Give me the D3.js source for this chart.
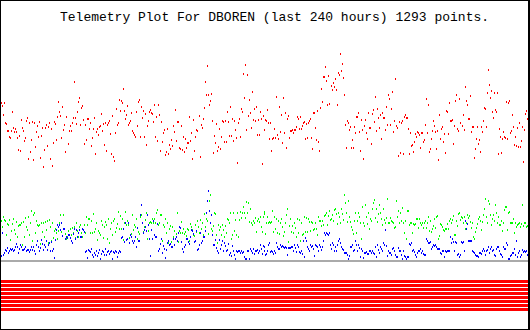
<!DOCTYPE html>
<html>
<head>
<meta charset="utf-8">
<script src="https://cdn.jsdelivr.net/npm/d3@7"></script>
<style>
  body { margin: 0; background: #fff; }
  svg { display: block; }
</style>
</head>
<body>
<div id="chart"></div>
<script>
var title = "Telemetry Plot For DBOREN (last 240 hours) 1293 points.";
var hoursBack = 240;

// readings, oldest first (arbitrary units above the zero line)
var redVals = [
  157,154,145,157,137,136,129,129,123,122,129,148,132,128,131,128,122,110,124,109,140,132,129,119,122,139,142,101,137,108,
  120,138,100,137,113,128,134,123,138,102,124,132,93,110,132,135,114,133,137,101,131,94,117,138,136,120,143,158,148,144,
  122,153,130,135,108,143,116,129,134,129,137,142,178,142,136,148,158,162,135,152,154,140,116,135,120,141,141,131,137,114,
  122,131,142,106,128,131,125,133,134,146,129,136,115,137,109,135,137,139,126,106,144,103,99,127,151,135,137,160,149,159,
  157,171,149,141,145,154,135,137,139,147,129,127,125,123,148,134,158,160,123,153,142,149,123,146,115,134,139,148,150,147,
  146,138,155,123,143,119,155,145,109,138,118,127,130,105,108,131,106,115,111,120,114,134,128,150,119,138,
  138,112,111,134,110,123,108,121,112,117,117,143,119,127,101,140,109,123,130,129,144,103,135,132,141,152,178,165,194,165,
  155,159,166,139,107,124,117,136,109,113,131,111,123,139,138,118,139,118,148,138,124,153,124,141,119,139,130,122,97,137,
  141,123,151,148,186,162,195,130,185,144,160,147,132,168,140,151,139,153,125,140,125,148,141,96,144,130,140,139,150,137,
  121,137,109,121,122,131,122,163,125,121,153,128,145,117,162,127,147,112,141,144,122,129,129,130,127,130,130,133,143,141,
  131,143,131,134,137,138,121,136,122,137,139,141,122,111,147,147,132,120,149,118,109,152,171,158,183,183,193,179,155,184,
  156,174,170,177,173,181,170,155,187,185,206,189,196,182,165,135,112,139,137,130,133,112,120,112,133,127,143,143,
  147,128,109,140,130,101,134,140,127,121,147,132,132,116,146,150,138,163,129,151,142,132,145,121,147,142,142,130,153,135,
  165,161,135,151,168,128,139,181,134,132,104,138,107,137,139,106,143,145,142,142,131,106,127,114,115,108,118,126,123,128,
  127,125,112,127,127,118,120,135,161,127,155,108,111,121,129,139,134,128,111,129,100,145,121,131,133,118,126,107,149,148,
  126,157,139,139,140,116,134,159,165,131,129,161,137,134,145,130,173,159,155,141,141,164,128,133,133,102,111,121,133,116,
  120,108,133,128,139,152,151,133,167,190,175,162,169,148,142,167,150,148,167,106,131,123,107,121,128,123,122,158,121,157,
  159,127,129,145,133,115,123,114,132,113,137,113,119,133,98,130,146,149,141
];

var greenVals = [
  39,33,43,40,39,25,36,35,40,20,29,36,41,30,26,38,23,34,35,35,37,15,38,23,42,33,30,43,25,37,
  49,19,45,47,27,39,35,34,35,16,37,28,37,23,38,30,39,17,40,33,19,37,22,29,31,27,21,29,37,45,
  28,24,45,31,26,21,23,29,25,31,25,32,27,33,22,37,29,23,33,35,27,23,30,35,27,43,35,41,41,27,
  39,27,46,28,31,37,20,29,27,25,39,35,22,33,38,35,21,41,17,31,37,25,39,41,28,32,36,48,31,44,
  31,41,20,37,48,35,39,35,22,25,26,45,30,35,33,41,21,28,26,43,45,37,28,33,40,47,21,29,37,38,
  37,41,37,41,37,47,50,35,37,45,45,19,35,33,41,27,37,17,31,34,18,33,23,29,21,26,47,18,29,27,
  38,27,31,26,28,24,31,30,19,36,33,30,25,24,35,28,39,33,27,40,31,37,25,46,33,41,39,26,59,65,
  31,29,34,47,46,25,17,35,30,33,25,35,30,23,34,27,41,40,37,47,21,25,47,29,40,25,47,23,40,48,
  42,47,53,47,42,58,47,57,38,51,37,35,39,37,42,28,39,41,38,43,33,28,43,48,46,26,37,43,37,38,
  37,38,49,28,43,31,41,27,39,26,37,41,33,24,28,37,45,51,18,34,41,28,34,27,37,32,23,41,27,40,
  19,37,25,26,43,28,42,28,41,38,29,38,37,30,31,37,31,25,43,39,39,34,39,35,44,45,47,35,44,49,
  40,41,45,39,50,51,46,36,47,43,37,51,46,40,65,57,47,38,59,43,38,33,30,26,39,47,27,39,47,
  43,37,21,53,37,34,55,43,36,47,31,41,39,51,57,60,42,51,38,46,55,47,41,35,51,40,37,42,61,37,
  37,42,39,38,37,32,33,59,43,49,37,47,39,52,37,27,39,21,49,49,35,37,37,27,36,35,36,41,41,32,
  41,37,35,37,32,37,39,32,37,43,29,39,28,31,34,41,32,43,44,21,24,36,35,33,30,29,31,31,36,31,
  39,41,37,40,44,25,25,39,34,46,47,40,43,42,37,43,31,37,45,42,44,38,32,37,23,21,28,32,36,41,
  43,39,30,38,45,51,61,43,37,59,56,45,35,41,45,39,55,47,37,43,35,35,39,29,37,50,53,53,30,47,
  48,37,37,37,41,27,37,33,35,36,37,33,36,55,34,37,37,33,34
];

var blueVals = [
  4,27,5,7,10,9,12,7,9,11,10,11,9,10,13,16,13,7,11,15,13,10,10,11,13,9,10,10,8,10,
  13,10,13,9,6,15,19,13,9,12,20,16,10,15,13,19,10,15,17,9,18,9,11,2,20,30,35,33,35,30,
  37,24,31,31,21,23,22,25,25,22,19,17,26,31,21,30,23,27,30,23,23,31,30,28,8,9,2,10,9,8,
  11,5,3,7,5,9,4,7,10,1,6,9,8,5,11,5,8,9,6,8,9,1,8,7,9,8,3,7,9,8,
  22,23,31,18,37,20,21,37,17,25,23,19,17,19,23,13,32,19,19,45,55,37,27,30,33,29,45,35,21,4,
  30,21,39,25,23,23,36,9,11,16,21,7,14,11,2,10,17,19,15,16,13,13,21,15,21,23,19,27,33,32,
  18,11,8,13,15,21,21,18,16,23,30,29,26,18,19,29,10,11,15,27,17,19,23,23,29,47,59,69,49,37,
  45,25,15,15,20,12,9,7,20,11,15,19,9,17,14,9,10,16,5,7,4,14,9,5,1,9,8,9,9,7,
  9,7,8,3,1,1,9,9,1,11,9,7,11,6,9,9,10,7,9,15,11,6,14,9,13,5,6,9,15,17,
  8,9,8,6,9,7,17,13,11,11,15,13,14,13,12,13,12,5,12,12,12,13,13,9,15,12,8,15,13,8,
  7,9,6,19,3,22,19,13,11,9,15,13,14,11,4,15,14,13,9,15,13,10,13,19,27,25,27,26,25,27,
  15,11,17,15,9,13,9,15,19,21,17,13,11,10,7,7,7,5,1,4,13,13,15,9,10,19,15,9,15,
  12,3,11,9,2,7,7,8,6,6,9,9,7,9,7,6,13,3,15,10,7,13,11,9,17,15,30,14,4,9,
  7,7,5,11,12,9,5,3,3,12,9,9,5,1,9,4,3,1,3,3,16,15,17,9,10,8,5,3,7,9,
  9,11,7,9,6,5,5,21,19,17,17,18,11,13,15,14,15,13,11,11,11,7,6,9,9,3,9,8,9,9,
  9,23,17,21,18,9,18,17,5,6,3,5,18,17,18,9,39,31,36,19,19,19,19,9,8,7,5,4,4,3,
  7,7,6,9,11,9,5,9,10,13,7,11,13,9,10,5,4,11,13,13,9,6,5,3,13,11,11,17,15,1,
  1,4,5,7,7,11,5,19,3,7,9,3,5,10,8,9,8,9,5
];

// status flag rows shown under the plot (1 = set)
var flags = [1, 1, 1, 1, 1, 1, 1, 1];

var series = [
  { name: "red", color: "#ff0000", values: redVals },
  { name: "green", color: "#00ff00", values: greenVals },
  { name: "blue", color: "#0000ff", values: blueVals }
];

var W = 530, H = 330;

var svg = d3.select("#chart")
  .append("svg")
  .attr("width", W)
  .attr("height", H)
  .attr("shape-rendering", "crispEdges");

// frame
svg.append("rect").attr("width", W).attr("height", H).attr("fill", "#000");
svg.append("rect").attr("x", 1).attr("y", 1)
  .attr("width", W - 3).attr("height", H - 2).attr("fill", "#fff");

var x = d3.scaleLinear().domain([-hoursBack, 0]).range([1, 527]);
var y = d3.scaleLinear().domain([0, 240]).range([260, 20]);

svg.append("text")
  .attr("x", 60)
  .attr("y", 21)
  .attr("font-family", "'Liberation Mono', monospace")
  .attr("font-size", 13)
  .attr("fill", "#000")
  .text(title);

// zero line
svg.append("rect")
  .attr("x", 1)
  .attr("y", y(0))
  .attr("width", W - 3)
  .attr("height", 2)
  .attr("fill", "#aaaaaa");

series.forEach(function(s) {
  var n = s.values.length;
  svg.append("g")
    .selectAll("rect")
    .data(s.values)
    .enter()
    .append("rect")
    .attr("x", function(d, i) {
      return Math.round(x(-hoursBack + i * hoursBack / (n - 1)));
    })
    .attr("y", function(d) { return Math.round(y(d)) - 1; })
    .attr("width", 1)
    .attr("height", 2)
    .attr("fill", s.color);
});

// flag rows
var fy = d3.scaleBand().domain(d3.range(flags.length)).range([280, 311]).paddingInner(0.25).paddingOuter(0);
svg.append("g")
  .selectAll("rect")
  .data(flags)
  .enter()
  .append("rect")
  .attr("x", 1)
  .attr("y", function(d, i) { return fy(i); })
  .attr("width", W - 3)
  .attr("height", fy.bandwidth())
  .attr("fill", function(d) { return d ? "#ff0000" : "#fff"; });
</script>
</body>
</html>
